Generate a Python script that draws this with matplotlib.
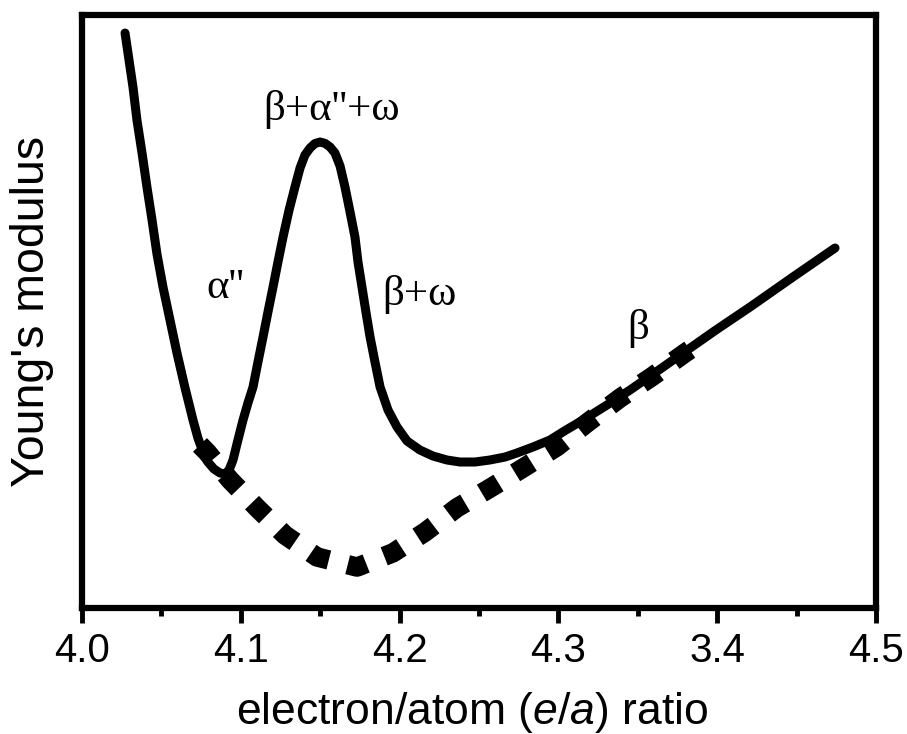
import matplotlib
matplotlib.use("Agg")
import matplotlib.pyplot as plt
from matplotlib.ticker import MultipleLocator

# solid curve: Young's modulus vs e/a (arbitrary units)
solid_ea = [4.0271, 4.0296, 4.0321, 4.0346, 4.0378, 4.0409, 4.0441, 4.0472, 4.0510, 4.0554,
            4.0598, 4.0649, 4.0699, 4.0730, 4.0762, 4.0793, 4.0831, 4.0869, 4.0900, 4.0926,
            4.0951, 4.0982, 4.1014, 4.1045, 4.1077, 4.1108, 4.1140, 4.1171, 4.1203, 4.1234,
            4.1266, 4.1304, 4.1341, 4.1373, 4.1404, 4.1436, 4.1467, 4.1499, 4.1530, 4.1562,
            4.1593, 4.1625, 4.1656, 4.1688, 4.1719, 4.1738, 4.1763, 4.1788, 4.1814, 4.1845,
            4.1877, 4.1927, 4.1984, 4.2047, 4.2128, 4.2210, 4.2298, 4.2380, 4.2475, 4.2569,
            4.2664, 4.2739, 4.2840, 4.2947, 4.3048, 4.3155, 4.3306, 4.3451, 4.3615, 4.3785,
            4.3992, 4.4207, 4.4477, 4.4742]
solid_E = [96.96, 92.41, 87.86, 82.29, 76.73, 70.99, 65.43, 59.70, 54.13, 48.57,
           43.00, 37.10, 31.70, 28.67, 26.31, 24.62, 23.44, 22.77, 22.60, 23.27,
           24.96, 28.33, 31.70, 34.57, 37.27, 41.48, 45.70, 49.92, 54.13, 58.35,
           62.56, 67.12, 70.99, 74.20, 76.39, 77.57, 78.33, 78.58, 78.36, 77.74,
           76.73, 74.54, 70.99, 66.78, 62.56, 58.35, 54.13, 49.92, 45.70, 41.48,
           37.27, 33.39, 30.52, 28.16, 26.64, 25.63, 24.96, 24.62, 24.62, 24.96,
           25.46, 26.14, 27.15, 28.33, 30.02, 31.70, 34.23, 36.76, 39.80, 43.00,
           46.88, 50.76, 55.82, 60.71]

# dotted curve (single beta phase)
dot_ea = [4.0743, 4.0787, 4.0932, 4.1102, 4.1278, 4.1480, 4.1732, 4.1958, 4.2160,
          4.2361, 4.2569, 4.2777, 4.2991, 4.3180, 4.3388, 4.3589, 4.3797, 4.3841]
dot_E = [27.5, 26.3, 21.6, 16.9, 12.3, 8.6, 6.9, 9.3, 12.8,
         16.9, 20.2, 23.6, 27.2, 31.2, 35.4, 39.0, 43.0, 43.8]

tick_pos = [4.0, 4.1, 4.2, 4.3, 4.4, 4.5]
tick_labels = ["4.0", "4.1", "4.2", "4.3", "3.4", "4.5"]

# phase labels
phase_labels = ["\u03b2+\u03b1''+\u03c9", "\u03b1''", "\u03b2+\u03c9", "\u03b2"]
phase_ea = [4.157, 4.090, 4.2128, 4.350]
phase_E = [84.0, 54.0, 52.8, 47.2]

plt.rcParams['font.family'] = ['Liberation Sans', 'DejaVu Sans']
plt.rcParams['mathtext.fontset'] = 'custom'
plt.rcParams['mathtext.it'] = 'Liberation Sans:italic'
plt.rcParams['mathtext.rm'] = 'Liberation Sans'

fig = plt.figure(figsize=(9.07, 7.34), dpi=100)
ax = fig.add_axes([82 / 907, 1 - 608 / 734, (876 - 82) / 907, (608 - 15) / 734])

ax.plot(solid_ea, solid_E, color="black", lw=6.5, solid_capstyle="round",
        solid_joinstyle="round", zorder=3)
ax.plot(dot_ea, dot_E, color="black", lw=14, dashes=(1.0, 1.0),
        dash_capstyle="butt", zorder=2)

for lab, x, y in zip(phase_labels, phase_ea, phase_E):
    ax.text(x, y, lab, ha="center", va="center", fontsize=31,
            family=["Liberation Serif", "DejaVu Serif"])

ax.set_xlim(4.0, 4.5)
ax.set_ylim(0, 100)
ax.set_xticks(tick_pos)
ax.set_xticklabels(tick_labels, fontsize=29)
ax.xaxis.set_minor_locator(MultipleLocator(0.05))
ax.set_yticks([])
ax.tick_params(axis="x", which="major", length=11, width=3.5, pad=6, direction="out")
ax.tick_params(axis="x", which="minor", length=6, width=3.5, direction="out")

for s in ax.spines.values():
    s.set_linewidth(4.5)

ax.set_xlabel("electron/atom ($e/a$) ratio", fontsize=32, labelpad=15)
ax.xaxis.label.set_x(0.491)
ax.set_ylabel("Young's modulus", fontsize=33.5, labelpad=20)

fig.savefig("out.png", dpi=100)
